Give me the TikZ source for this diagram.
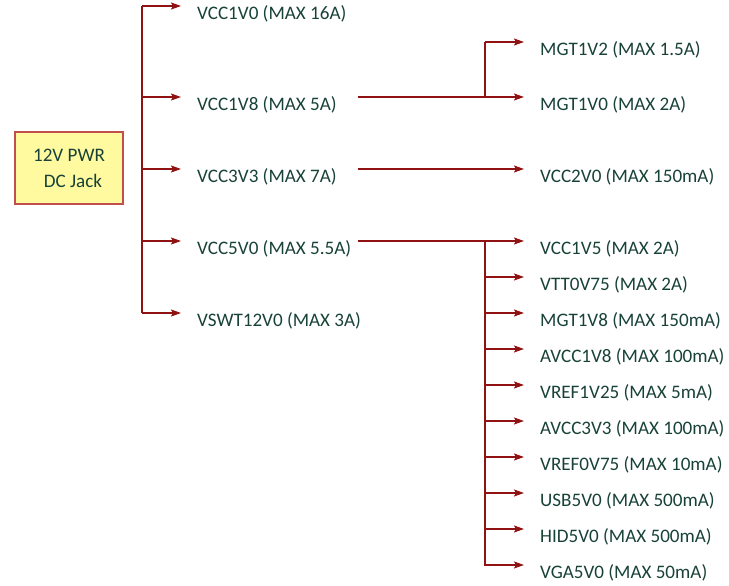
\documentclass[tikz,border=0pt]{standalone}
\usepackage{fontspec}
\setmainfont{Carlito}
\usetikzlibrary{arrows.meta,positioning}
\definecolor{wirec}{RGB}{145,18,18}
\definecolor{txtc}{RGB}{24,66,56}
\definecolor{boxfill}{RGB}{255,250,160}
\definecolor{boxdraw}{RGB}{192,80,77}
\tikzset{
  wire/.style={draw=wirec,line width=1.6pt},
  arr/.style={wire,-{Stealth[length=10pt,width=7pt,inset=2pt]}},
  lbl/.style={anchor=west,inner sep=0pt,text=txtc,font=\fontsize{19.1}{22}\selectfont},
  srcbox/.style={draw=boxdraw,fill=boxfill,line width=1.2pt,minimum width=108pt,minimum height=72pt,inner sep=0pt,text=txtc,font=\fontsize{19.1}{26}\selectfont,align=center}
}
\begin{document}
\begin{tikzpicture}[x=1pt,y=-1pt]
\useasboundingbox (0,0) rectangle (729,586);
% source box
\node[srcbox] (src) at (69,168) {12V PWR\\\hspace*{8pt}DC Jack};
% left trunk
\coordinate (L1) at (142,6);
\coordinate (L2) at (142,97);
\coordinate (L3) at (142,169);
\coordinate (L4) at (142,241);
\coordinate (L5) at (142,313);
\coordinate (T1) at (181,6);
\coordinate (T2) at (181,97);
\coordinate (T3) at (181,169);
\coordinate (T4) at (181,241);
\coordinate (T5) at (181,313);
\draw[wire] (L1) -- (L5);
\foreach \i in {1,...,5} {\draw[arr] (L\i) -- (T\i);}
\node[lbl] (n1) at (197,13.5) {VCC1V0 (MAX 16A)};
\node[lbl] (n2) at (197,104.5) {VCC1V8 (MAX 5A)};
\node[lbl] (n3) at (197,176.5) {VCC3V3 (MAX 7A)};
\node[lbl] (n4) at (197,248.5) {VCC5V0 (MAX 5.5A)};
\node[lbl] (n5) at (197,320.5) {VSWT12V0 (MAX 3A)};
% VCC1V8 branch
\coordinate (S2) at (358,97);
\coordinate (J2) at (485,97);
\coordinate (J2t) at (485,42);
\coordinate (R1) at (524,42);
\coordinate (R2) at (524,97);
\draw[wire] (S2) -- (J2) -- (J2t);
\draw[arr] (J2t) -- (R1);
\draw[arr] (J2) -- (R2);
\node[lbl] (m1) at (540,49.5) {MGT1V2 (MAX 1.5A)};
\node[lbl] (m2) at (540,104.5) {MGT1V0 (MAX 2A)};
% VCC3V3 branch
\coordinate (S3) at (358,169);
\coordinate (R3) at (524,169);
\draw[arr] (S3) -- (R3);
\node[lbl] (m3) at (540,176.5) {VCC2V0 (MAX 150mA)};
% VCC5V0 branch
\coordinate (S4) at (358,241);
\coordinate (J4) at (485,241);
\coordinate (J4b) at (485,566);
\draw[wire] (S4) -- (J4) -- (J4b);
\foreach \k/\yy/\t in {1/241/VCC1V5 (MAX 2A),2/277/VTT0V75 (MAX 2A),3/313/MGT1V8 (MAX 150mA),4/349/AVCC1V8 (MAX 100mA),5/385/VREF1V25 (MAX 5mA),6/421/AVCC3V3 (MAX 100mA),7/457/VREF0V75 (MAX 10mA),8/493/USB5V0 (MAX 500mA),9/529/HID5V0 (MAX 500mA),10/565/VGA5V0 (MAX 50mA)} {
  \coordinate (B\k) at (485,\yy);
  \coordinate (E\k) at (524,\yy);
  \draw[arr] (B\k) -- (E\k);
  \node[lbl] (p\k) at (540,\yy+7.5) {\t};
}
\end{tikzpicture}
\end{document}
